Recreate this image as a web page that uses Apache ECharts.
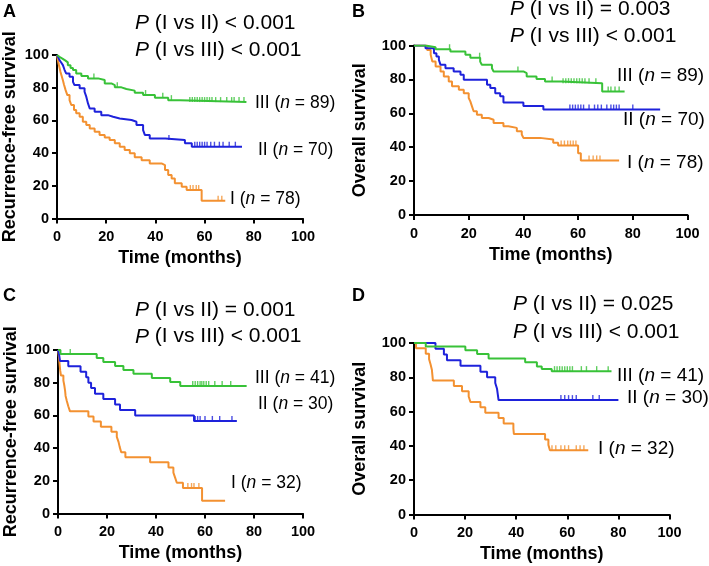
<!DOCTYPE html>
<html><head><meta charset="utf-8">
<script src="https://cdn.jsdelivr.net/npm/echarts@6/dist/echarts.min.js"></script>
<style>html,body{margin:0;padding:0;background:#fff}#c{width:709px;height:566px}</style>
</head><body><div id="c"></div>
<script>
// ---------- data ----------
const xTicks = [0, 20, 40, 60, 80, 100];
const yTicks = [0, 20, 40, 60, 80, 100];
const groupNames = ['I', 'II', 'III'];
const nCohort1 = [78, 70, 89];   // panels A, B
const nCohort2 = [32, 30, 41];   // panels C, D
const pA = ['< 0.001', '< 0.001'];
const pB = ['= 0.003', '< 0.001'];
const pC = ['= 0.001', '< 0.001'];
const pD = ['= 0.025', '< 0.001'];

// Panel A: recurrence-free survival, cohort 1  [month, %]
const A_I = [[0,100],[0.3,97.4],[0.6,94.9],[1.0,92.3],[1.4,89.7],[1.9,87.2],[2.4,84.6],[2.8,82.1],[3.5,78.5],[4.2,75.5],[5.1,72.4],[5.8,69.4],[6.9,66.3],[7.8,64.3],[9.2,62.3],[10.5,59.2],[11.9,57.2],[13.3,55.1],[15.3,53.1],[17.3,51.1],[19.4,49.6],[21.4,48.0],[23.5,46.0],[25.5,43.9],[27.5,41.9],[29.6,39.9],[31.6,37.4],[34.4,35.7],[37.7,33.7],[42.5,32.7],[43.9,29.6],[45.2,26.6],[46.6,24.5],[47.9,21.5],[50.7,19.4],[52.7,17.4],[58.8,10.8],[68.4,10.8]];
const A_I_cens = [54.2, 55.3, 56.6, 57.6, 65.5, 67];
const A_II = [[0,100],[0.5,98.6],[1.0,96.9],[1.7,95.4],[2.4,93.8],[3.1,90.8],[3.7,88.7],[5.1,86.7],[6.5,83.6],[7.1,81.6],[9.2,79.6],[11.2,77.5],[11.9,74.5],[12.6,70.4],[13.3,67.3],[15.3,65.3],[18.0,63.2],[20.7,62.2],[22.8,61.2],[25.5,60.2],[30.3,59.2],[32.3,57.2],[35.0,54.1],[35.7,51.1],[37.7,49.0],[44.0,48.0],[52.0,46.0],[54.8,43.9],[75.2,43.9]];
const A_II_cens = [45.5, 56, 57, 58, 59, 60, 61, 62.5, 64, 66, 67.5, 70, 72.5];
const A_III = [[0,100],[0.5,98.9],[1.0,97.8],[2.2,96.7],[3.3,95.5],[4.4,93.8],[5.5,92.1],[6.5,90.8],[7.8,88.7],[9.9,87.1],[12.6,85.7],[16.7,84.7],[19.4,82.6],[22.1,81.6],[23.5,80.2],[26.2,79.2],[28.2,78.2],[31.6,76.9],[35.0,75.5],[39.8,73.8],[45.2,72.4],[50.0,71.2],[77.0,71.2]];
const A_III_cens = [15, 24.5, 36, 43, 46.5, 54, 55, 56, 57, 58, 59, 60, 61, 62, 63, 64.5, 66.5, 69, 71, 72, 74, 76];

// Panel B: overall survival, cohort 1
const B_I = [[0,100],[4.8,97.4],[6.1,94.5],[6.7,90.5],[7.9,87.6],[9.7,84.7],[10.9,81.7],[12.7,78.8],[13.9,75.9],[16.4,73.9],[18.2,71.9],[20.0,69.0],[20.6,67.0],[21.2,64.1],[21.8,61.2],[23.0,59.2],[24.8,57.2],[27.3,56.2],[29.1,54.3],[32.7,52.3],[34.5,51.4],[37.6,49.4],[39.4,47.5],[40.0,45.5],[46.1,44.5],[50.9,42.6],[52.7,41.0],[60.0,36.5],[61.0,32.2],[75.0,32.2]];
const B_I_cens = [53.8, 55, 56.2, 57.2, 58.2, 59.2, 64, 65.5, 66.8, 68];
const B_II = [[0,100],[4.2,98.4],[7.3,95.5],[8.2,93.5],[9.1,91.5],[9.7,88.6],[11.5,86.6],[14.5,84.7],[17.0,82.7],[18.2,79.8],[26.7,76.8],[27.9,74.9],[29.7,71.9],[31.5,70.0],[32.7,66.3],[40.0,64.3],[47.3,62.2],[90.0,62.2]];
const B_II_cens = [57, 58, 59, 60, 61, 62, 64, 66, 67.2, 68.5, 70.5, 72, 73, 74, 75, 80];
const B_III = [[0,100],[4.2,99.0],[7.9,97.8],[13.3,96.4],[18.8,94.5],[20.6,92.8],[24.2,90.5],[24.8,88.6],[28.5,86.6],[29.1,84.7],[40.0,83.7],[41.2,81.7],[44.8,80.2],[47.9,78.8],[53.9,77.8],[68.8,72.9],[77.0,72.9]];
const B_III_cens = [13, 24, 38, 50.5, 54.5, 55.5, 56.5, 57.5, 58.5, 59.5, 60.5, 61.5, 62.5, 64, 66.5, 71, 72, 73.5, 75];

// Panel C: recurrence-free survival, cohort 2
const C_I = [[0,100],[0.3,96.9],[0.5,93.8],[0.7,90.6],[0.9,87.5],[1.2,84.4],[2.2,81.3],[2.6,78.1],[2.9,75.0],[3.1,71.9],[3.6,68.8],[4.2,65.6],[4.9,62.5],[12.4,59.4],[14.5,56.3],[17.5,53.1],[21.8,50.0],[24.0,46.9],[24.7,43.8],[25.2,40.6],[25.8,37.5],[27.5,34.4],[37.6,31.3],[45.1,28.1],[47.1,25.0],[47.8,21.9],[48.5,18.8],[51.0,15.6],[58.8,7.8],[68.2,7.8]];
const C_I_cens = [53, 54.5, 55.5, 57.5];
const C_II = [[0,100],[0.5,96.7],[0.8,93.3],[4.2,90.0],[9.2,86.7],[11.5,83.3],[12.4,80.0],[13.5,76.7],[15.1,73.3],[18.5,70.0],[23.3,66.7],[25.3,63.3],[31.5,60.0],[55.5,56.6],[73.0,56.6]];
const C_II_cens = [56, 57, 58, 60, 63, 66, 71];
const C_III = [[0,100],[1.0,97.6],[15.8,95.1],[18.5,92.7],[23.3,90.2],[26.7,87.8],[30.8,85.4],[38.3,82.9],[45.8,80.5],[49.9,78.0],[77.0,78.0]];
const C_III_cens = [5, 55, 56, 57, 58, 58.7, 59.5, 60.5, 61.5, 64, 67, 70.5];

// Panel D: overall survival, cohort 2
const D_I = [[0,100],[0.8,96.9],[4.6,93.8],[5.9,90.6],[6.5,87.5],[7.0,84.4],[7.2,81.3],[7.4,78.1],[15.6,75.0],[18.8,71.9],[21.4,68.8],[22.1,65.6],[26.0,62.5],[27.9,59.4],[33.1,56.3],[35.1,53.1],[38.9,50.0],[39.1,46.9],[51.3,43.8],[52.6,40.6],[53.2,37.5],[68.2,37.5]];
const D_I_cens = [54, 55.5, 57.5, 59, 60.5, 63.5, 65, 66.5];
const D_II = [[0,100],[8.4,96.7],[11.7,93.3],[12.9,90.0],[18.2,86.7],[26.0,83.3],[28.6,80.0],[31.8,76.7],[32.5,73.3],[33.1,66.7],[80.0,66.7]];
const D_II_cens = [57.5, 59, 60.5, 62, 63.5, 70, 72.5];
const D_III = [[0,100],[4.6,98.0],[20.1,95.8],[24.7,93.6],[29.2,91.0],[43.5,88.8],[48.1,86.3],[50.0,84.8],[53.9,83.6],[77.3,83.6]];
const D_III_cens = [55, 56, 57, 58, 59, 60, 61, 62, 65.5, 67.5, 71.5, 76];

// ---------- presentation ----------
const FF = '"Liberation Sans", Arial, Helvetica, sans-serif';
const COLORS = ['#F39131', '#1E22DB', '#38C238'];

const panels = [
  { letter:'A', grid:{left:57, top:55, width:246, height:163.5}, yName:'Recurrence-free survival', yGap:38,
    curves:[A_I,A_II,A_III], cens:[A_I_cens,A_II_cens,A_III_cens], n:nCohort1, p:pA,
    letterPos:[3,3], pPos:[135,23.3,50], labFont:17.5,
    labPos:[[230,199.5],[258,150.5],[255,103.5]] },
  { letter:'B', grid:{left:414, top:45.5, width:273.5, height:169.5}, yName:'Overall survival', yGap:45,
    curves:[B_I,B_II,B_III], cens:[B_I_cens,B_II_cens,B_III_cens], n:nCohort1, p:pB,
    letterPos:[352,3], pPos:[510,9.5,36.5], labFont:19,
    labPos:[[627,163],[623,120],[617,75.5]] },
  { letter:'C', grid:{left:58, top:350, width:245, height:163.5}, yName:'Recurrence-free survival', yGap:38,
    curves:[C_I,C_II,C_III], cens:[C_I_cens,C_II_cens,C_III_cens], n:nCohort2, p:pC,
    letterPos:[3,287], pPos:[135,310,336.7], labFont:17.5,
    labPos:[[231,483],[258,404],[255,378]] },
  { letter:'D', grid:{left:414, top:343, width:255.5, height:171.5}, yName:'Overall survival', yGap:45,
    curves:[D_I,D_II,D_III], cens:[D_I_cens,D_II_cens,D_III_cens], n:nCohort2, p:pD,
    letterPos:[352,287], pPos:[513,304.5,332], labFont:19,
    labPos:[[598,449],[627,397.5],[617,375.5]] }
];

function survAt(curve, t) {
  let s = curve[0][1];
  for (const [ti, si] of curve) { if (ti <= t) s = si; else break; }
  return s;
}

const grids = [], xAxes = [], yAxes = [], series = [], graphics = [];
const axisCommon = {
  type: 'value', min: xTicks[0], max: xTicks[xTicks.length-1], interval: xTicks[1]-xTicks[0],
  splitLine: {show:false},
  axisLine: {show:true, onZero:false, lineStyle:{color:'#000', width:2}},
  axisTick: {show:true, length:5, lineStyle:{color:'#000', width:2}},
};
panels.forEach((P, i) => {
  grids.push(Object.assign({outerBoundsMode:'none', containLabel:false}, P.grid));
  xAxes.push(Object.assign({}, axisCommon, {
    gridIndex: i,
    axisLabel: {color:'#000', fontWeight:'bold', fontSize:14.5, fontFamily:FF, margin:11},
    name: 'Time (months)', nameLocation:'middle', nameGap:31,
    nameTextStyle: {color:'#000', fontWeight:'bold', fontSize:18, fontFamily:FF}
  }));
  yAxes.push(Object.assign({}, axisCommon, {
    gridIndex: i, min: yTicks[0], max: yTicks[yTicks.length-1], interval: yTicks[1]-yTicks[0],
    axisLabel: {color:'#000', fontWeight:'bold', fontSize:14.5, fontFamily:FF, margin:8},
    name: P.yName, nameLocation:'middle', nameGap:P.yGap, nameRotate:90,
    nameTextStyle: {color:'#000', fontWeight:'bold', fontSize:18, fontFamily:FF}
  }));
  P.curves.forEach((c, j) => {
    series.push({
      type:'line', step:'end', xAxisIndex:i, yAxisIndex:i, data:c,
      showSymbol:false, symbol:'none', silent:true, z:2+j,
      lineStyle:{color:COLORS[j], width:2}
    });
    series.push({
      type:'scatter', xAxisIndex:i, yAxisIndex:i, silent:true, z:2+j,
      data: P.cens[j].map(t => [t, survAt(c, t)]),
      symbol:'rect', symbolSize:[1.4, 5], symbolOffset:[0, -2.5],
      itemStyle:{color:COLORS[j]}
    });
  });
  // panel letter
  graphics.push({type:'text', x:P.letterPos[0], y:P.letterPos[1],
    style:{text:P.letter, fill:'#000', font:'bold 18px '+FF, verticalAlign:'top'}});
  // P value lines
  const pRich = {
    i:{fontStyle:'italic', fontSize:21, fontFamily:FF, fill:'#000'},
    r:{fontSize:21, fontFamily:FF, fill:'#000'}
  };
  const pLines = ['{i|P}{r| (I vs II) ' + P.p[0] + '}', '{i|P}{r| (I vs III) ' + P.p[1] + '}'];
  pLines.forEach((txt, k) => {
    graphics.push({type:'text', x:P.pPos[0], y:P.pPos[1+k],
      style:{text:txt, rich:pRich, font:'21px '+FF, fill:'#000', verticalAlign:'middle'}});
  });
  // group labels
  const lRich = {
    i:{fontStyle:'italic', fontSize:P.labFont, fontFamily:FF, fill:'#000'},
    r:{fontSize:P.labFont, fontFamily:FF, fill:'#000'}
  };
  groupNames.forEach((g, j) => {
    graphics.push({type:'text', x:P.labPos[j][0], y:P.labPos[j][1],
      style:{text:'{r|' + g + ' (}{i|n}{r| = ' + P.n[j] + ')}', rich:lRich,
             font:P.labFont+'px '+FF, fill:'#000', verticalAlign:'middle'}});
  });
});

const chart = echarts.init(document.getElementById('c'), null, {renderer:'canvas'});
chart.setOption({
  animation:false, backgroundColor:'#fff',
  grid:grids, xAxis:xAxes, yAxis:yAxes, series:series,
  graphic:{elements:graphics}
});
</script></body></html>
